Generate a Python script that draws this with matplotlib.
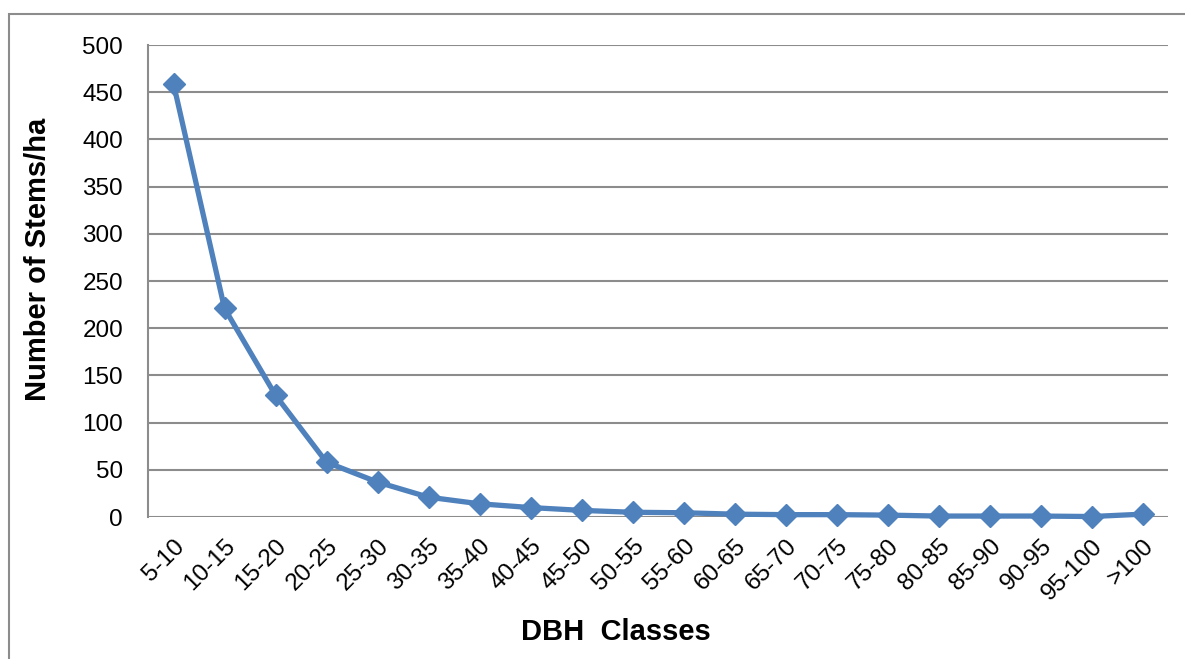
import matplotlib
matplotlib.use("Agg")
import matplotlib.pyplot as plt
from matplotlib.patches import Rectangle

categories = ["5-10", "10-15", "15-20", "20-25", "25-30", "30-35", "35-40", "40-45",
              "45-50", "50-55", "55-60", "60-65", "65-70", "70-75", "75-80", "80-85",
              "85-90", "90-95", "95-100", ">100"]
stems = [459, 221, 129, 58, 37, 21, 14, 10, 7, 5, 4.5, 3, 2.5, 2.5, 2, 1, 1, 1, 0.5, 3]
yticks = [0, 50, 100, 150, 200, 250, 300, 350, 400, 450, 500]

plt.rcParams['font.family'] = ['Liberation Sans', 'DejaVu Sans']

W, H = 1185, 659
fig = plt.figure(figsize=(W / 100, H / 100), dpi=100)
fig.patches.append(Rectangle((9 / W, -0.2), 1.2, 1.2 - 14 / H, transform=fig.transFigure,
                             fill=False, edgecolor='#8c8c8c', linewidth=1.5))

ax = fig.add_axes([148 / W, 1 - 517 / H, (1168 - 148) / W, (517 - 45) / H])
x = list(range(len(categories)))
ax.plot(x, stems, color='#4F81BD', linewidth=3.8, marker='D', markersize=11.5,
        markerfacecolor='#4F81BD', markeredgecolor='#4F81BD', zorder=3, clip_on=False)
ax.set_xlim(-0.5, len(categories) - 0.5)
ax.set_ylim(0, 500)
ax.set_yticks(yticks)
ax.set_yticklabels([str(v) for v in yticks], fontsize=17.5)
ax.yaxis.grid(True, color='#8c8c8c', linewidth=1.5)
ax.set_axisbelow(True)
ax.set_xticks(x)
ax.set_xticklabels(categories, rotation=45, ha='right', va='top', rotation_mode='anchor',
                   fontsize=17.5)
ax.tick_params(axis='both', length=0)
ax.tick_params(axis='x', pad=13)
ax.tick_params(axis='y', pad=18)
for s in ['top', 'right', 'bottom']:
    ax.spines[s].set_visible(False)
ax.spines['left'].set_color('#8c8c8c')
ax.spines['left'].set_linewidth(1.5)

fig.text(616 / W, 1 - 632 / H, "DBH  Classes", ha='center', va='center',
         fontsize=21, fontweight='bold')
fig.text(38 / W, 1 - 259 / H, "Number of Stems/ha", ha='center', va='center',
         rotation=90, fontsize=21, fontweight='bold')

fig.savefig("out.png", dpi=100)
